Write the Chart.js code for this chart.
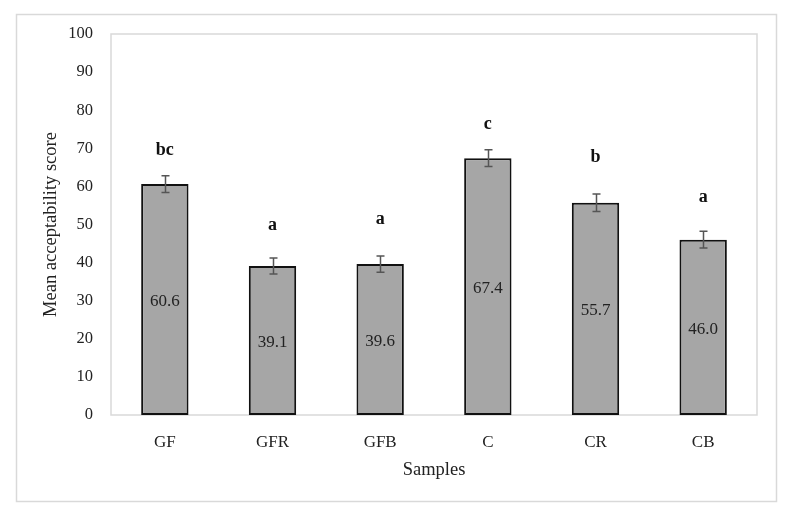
<!DOCTYPE html>
<html>
<head>
<meta charset="utf-8">
<script src="https://cdn.jsdelivr.net/npm/chart.js@4"></script>
<style>
  html, body { margin: 0; padding: 0; background: #ffffff; }
  #wrap { width: 790px; height: 515px; position: relative; }
</style>
</head>
<body>
<div id="wrap"><canvas id="c" width="790" height="515"></canvas></div>
<script>
const categories = ["GF", "GFR", "GFB", "C", "CR", "CB"];
const meanScores = [60.6, 39.1, 39.6, 67.4, 55.7, 46.0];
const errorValues = [2.2, 2.1, 2.1, 2.2, 2.3, 2.2];
const letterLabels = ["bc", "a", "a", "c", "b", "a"];
const letterValues = [69.5, 49.9, 51.4, 76.4, 67.5, 57.2];
const yTicks = [0, 10, 20, 30, 40, 50, 60, 70, 80, 90, 100];

const FONT = "'Liberation Serif', 'DejaVu Serif', serif";

const framePlugin = {
  id: 'frame',
  beforeDraw(chart) {
    const ctx = chart.ctx;
    ctx.save();
    ctx.fillStyle = '#ffffff';
    ctx.fillRect(0, 0, chart.width, chart.height);
    ctx.strokeStyle = '#d9d9d9';
    ctx.lineWidth = 1.5;
    ctx.strokeRect(16.5, 14.5, 760, 487);
    const a = chart.chartArea;
    ctx.strokeStyle = '#d9d9d9';
    ctx.lineWidth = 1.5;
    ctx.strokeRect(a.left, a.top, a.right - a.left, a.bottom - a.top);
    ctx.restore();
  }
};

const annotPlugin = {
  id: 'annot',
  afterDatasetsDraw(chart) {
    const ctx = chart.ctx;
    const x = chart.scales.x, y = chart.scales.y;
    ctx.save();
    // error bars
    ctx.strokeStyle = '#555555';
    ctx.lineWidth = 1.5;
    meanScores.forEach((v, i) => {
      const cx = Math.round(x.getPixelForValue(i)) + 0.5;
      const yt = y.getPixelForValue(v + errorValues[i]);
      const yb = y.getPixelForValue(v - errorValues[i]);
      ctx.beginPath();
      ctx.moveTo(cx, yt); ctx.lineTo(cx, yb);
      ctx.moveTo(cx - 4, yt); ctx.lineTo(cx + 4, yt);
      ctx.moveTo(cx - 4, yb); ctx.lineTo(cx + 4, yb);
      ctx.stroke();
    });
    // value labels
    ctx.fillStyle = '#222222';
    ctx.font = "17px " + FONT;
    ctx.textAlign = 'center';
    ctx.textBaseline = 'middle';
    meanScores.forEach((v, i) => {
      const cx = x.getPixelForValue(i);
      const cy = (y.getPixelForValue(v) + y.getPixelForValue(0)) / 2 + 2;
      ctx.fillText(v.toFixed(1), cx, cy);
    });
    // significance letters
    ctx.fillStyle = '#111111';
    ctx.font = "bold 18px " + FONT;
    letterLabels.forEach((t, i) => {
      ctx.fillText(t, x.getPixelForValue(i), y.getPixelForValue(letterValues[i]));
    });
    ctx.restore();
  }
};

new Chart(document.getElementById('c'), {
  type: 'bar',
  data: {
    labels: categories,
    datasets: [{
      data: meanScores,
      backgroundColor: '#a6a6a6',
      borderColor: '#111111',
      borderWidth: 2,
      borderSkipped: false,
      categoryPercentage: 1.0,
      barPercentage: 0.44
    }]
  },
  options: {
    responsive: false,
    animation: false,
    devicePixelRatio: 1,
    layout: { padding: { left: 0, right: 33, top: 34, bottom: 0 } },
    plugins: { legend: { display: false }, tooltip: { enabled: false } },
    scales: {
      x: {
        grid: { display: false, drawTicks: false },
        border: { display: false },
        ticks: { color: '#222222', font: { family: FONT, size: 17 }, padding: 17 },
        title: { display: true, text: 'Samples', color: '#222222', font: { family: FONT, size: 18.5 }, padding: { bottom: 34 } },
        afterFit(s) { s.height = 100; }
      },
      y: {
        min: 0, max: 100,
        afterBuildTicks(s) { s.ticks = yTicks.map(v => ({ value: v })); },
        grid: { display: false, drawTicks: false },
        border: { display: false },
        ticks: { color: '#222222', font: { family: FONT, size: 16.5 }, padding: 18 },
        title: { display: true, text: 'Mean acceptability score', color: '#222222', font: { family: FONT, size: 18.5 }, padding: { top: 40 } },
        afterFit(s) { s.width = 111; }
      }
    }
  },
  plugins: [framePlugin, annotPlugin]
});
</script>
</body>
</html>
